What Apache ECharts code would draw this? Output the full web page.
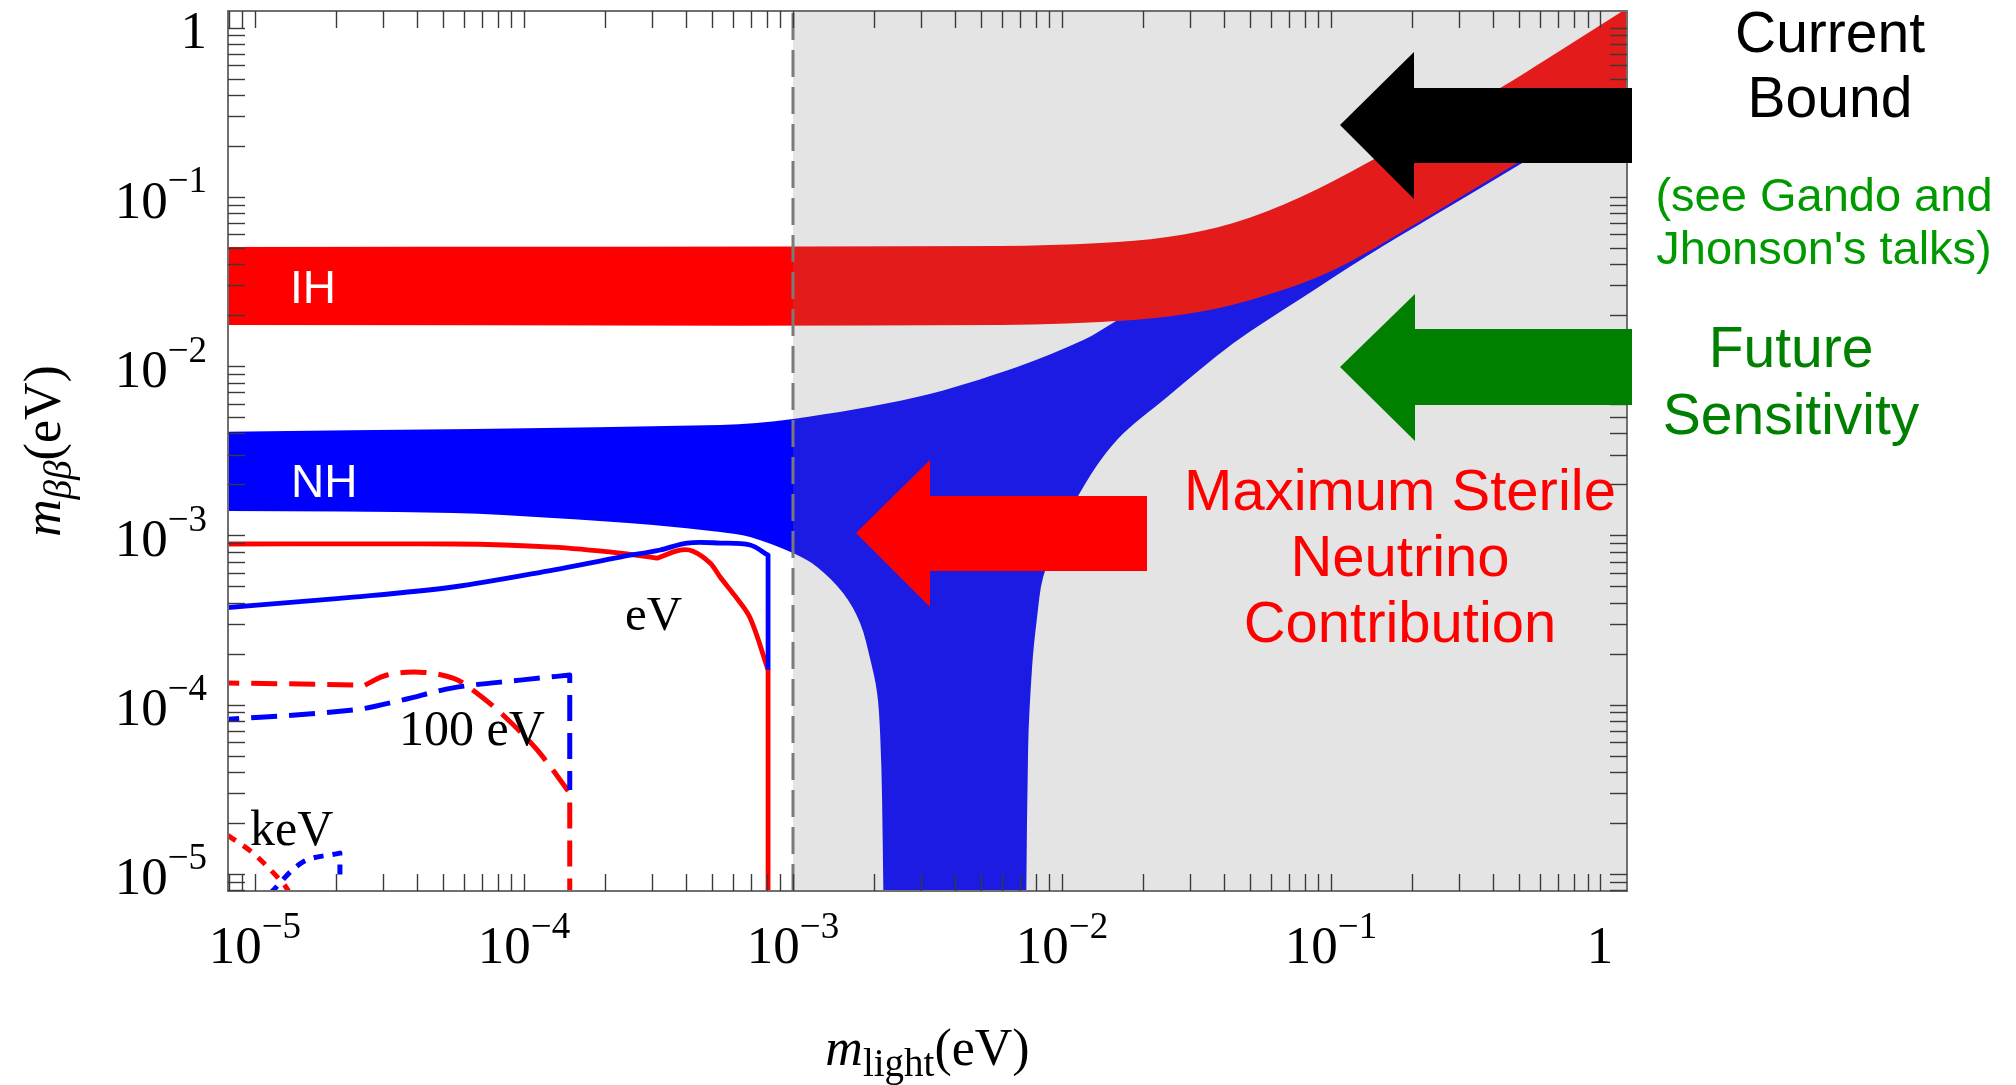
<!DOCTYPE html>
<html>
<head>
<meta charset="utf-8">
<script src="https://cdn.jsdelivr.net/npm/echarts@6/dist/echarts.min.js"></script>
<style>
  html, body { margin: 0; padding: 0; background: #fff; }
  #chart { width: 2016px; height: 1085px; }
</style>
</head>
<body>
<div id="chart"></div>
<script>
const logMin = -5.1;
const logMax = 0.1;
const decadeLabels = [-5, -4, -3, -2, -1, 0];
const grayStart = 1e-3; // shaded region starts here (eV)

// bands: [m_light (eV), m_bb (eV)], each edge left to right
const ihUpper = [[7e-6, 0.0508], [5.89e-3, 0.0515], [0.0139, 0.0536], [0.0246, 0.0581], [0.0433, 0.0704],
  [0.0768, 0.100], [0.136, 0.159], [0.425, 0.442], [0.652, 0.673], [1.3, 1.35]];
const ihLower = [[7e-6, 0.01756], [5.89e-3, 0.01756], [0.0184, 0.0188], [0.0326, 0.0210], [0.0579, 0.0264],
  [0.102, 0.0371], [0.209, 0.0704], [0.492, 0.159], [1.3, 0.40]];
const nhUpper = [[7e-6, 4.10e-3], [5.36e-4, 4.51e-3], [1.0e-3, 4.89e-3], [2.89e-3, 6.59e-3], [6.81e-3, 9.92e-3],
  [0.0120, 0.0143], [0.0155, 0.0181], [0.0213, 0.0247], [0.0326, 0.0371], [0.102, 0.0962], [0.425, 0.327], [1.3, 0.81]];
// lower edge left of the funnel, down into it
const nhLowerLeft = [[7e-6, 1.398e-3], [5.45e-5, 1.360e-3], [1.28e-4, 1.271e-3], [3.02e-4, 1.155e-3], [5.36e-4, 1.050e-3],
  [6.93e-4, 9.81e-4], [1.0e-3, 7.89e-4], [1.229e-3, 6.53e-4], [1.535e-3, 4.58e-4], [1.776e-3, 3.05e-4],
  [1.935e-3, 1.87e-4], [2.054e-3, 1.18e-4], [2.108e-3, 6.8e-5], [2.144e-3, 2.74e-5], [2.20e-3, 1e-6]];
// lower edge from the funnel bottom up to the right
const nhLowerRight = [[7.29e-3, 1e-6], [7.48e-3, 5.41e-5], [7.74e-3, 1.67e-4], [8.08e-3, 3.30e-4], [8.51e-3, 5.69e-4],
  [9.84e-3, 1.04e-3], [0.0120, 1.94e-3], [0.0160, 3.67e-3], [0.0246, 6.59e-3], [0.0433, 0.0137],
  [0.0768, 0.0250], [0.136, 0.0449], [0.240, 0.0774], [0.425, 0.133], [1.3, 0.385]];

// sterile neutrino curves, split where the curve has a corner
const ihEv = [
  [[7e-6, 8.92e-4], [5.45e-5, 8.92e-4], [1.28e-4, 8.56e-4], [2.28e-4, 7.89e-4], [3.13e-4, 7.36e-4]],
  [[3.13e-4, 7.36e-4], [3.80e-4, 8.21e-4], [4.25e-4, 8.09e-4], [4.92e-4, 6.89e-4], [5.36e-4, 5.69e-4],
    [6.09e-4, 4.40e-4], [6.93e-4, 3.26e-4], [8.08e-4, 1.61e-4]],
  [[8.08e-4, 1.61e-4], [8.08e-4, 1e-6]]
];
const nhEv = [
  [[7e-6, 3.70e-4], [2.32e-5, 4.33e-4], [5.45e-5, 4.97e-4], [1.28e-4, 6.26e-4], [2.28e-4, 7.47e-4],
    [3.21e-4, 8.22e-4], [4.04e-4, 9.04e-4], [5.36e-4, 9.04e-4], [6.93e-4, 8.80e-4], [8.08e-4, 7.66e-4]],
  [[8.08e-4, 7.66e-4], [8.08e-4, 1.61e-4]]
];
const ih100eV = [
  [[7e-6, 1.35e-4], [2.32e-5, 1.31e-4], [2.52e-5, 1.29e-4]],
  [[2.52e-5, 1.29e-4], [3.10e-5, 1.50e-4], [4.11e-5, 1.56e-4], [5.45e-5, 1.44e-4], [6.47e-5, 1.22e-4],
    [8.36e-5, 8.71e-5], [1.12e-4, 5.41e-5], [1.48e-4, 3.01e-5]],
  [[1.48e-4, 3.01e-5], [1.48e-4, 1e-6]]
];
const nh100eV = [
  [[7e-6, 8.1e-5], [2.32e-5, 9.32e-5], [3.55e-5, 1.07e-4], [5.45e-5, 1.26e-4], [9.67e-5, 1.40e-4], [1.48e-4, 1.50e-4]],
  [[1.48e-4, 1.50e-4], [1.48e-4, 3.14e-5]]
];
const ihKeV = [
  [[7.9e-6, 1.70e-5], [9.84e-6, 1.33e-5], [1.27e-5, 8.86e-6], [1.35e-5, 7.7e-6]]
];
const nhKeV = [
  [[1.14e-5, 7.7e-6], [1.51e-5, 1.18e-5], [2.07e-5, 1.33e-5]],
  [[2.07e-5, 1.33e-5], [2.07e-5, 9.7e-6]]
];

const toLog = (p) => [Math.log10(p[0]), Math.log10(p[1])];

// 1..9 ticks in every decade
const tickValues = [];
for (let n = -6; n <= 0; n++) {
  for (let k = 1; k <= 9; k++) {
    const v = n + Math.log10(k);
    if (v >= logMin - 1e-9 && v <= logMax + 1e-9) tickValues.push(v);
  }
}

const serif = "'Liberation Serif', 'DejaVu Serif', serif";
const sans = "'Liberation Sans', Arial, sans-serif";

function decadeLabel(v) {
  const n = Math.round(v);
  return n === 0 ? '{b|1}' : '{b|10}{s|\u2212' + Math.abs(n) + '}';
}
const labelRich = {
  b: { fontFamily: serif, fontSize: 53, color: '#000', lineHeight: 66, verticalAlign: 'bottom' },
  s: { fontFamily: serif, fontSize: 37, color: '#000', verticalAlign: 'top' }
};
const titleRich = {
  i: { fontFamily: serif, fontSize: 52, fontStyle: 'italic', color: '#000' },
  sub: { fontFamily: serif, fontSize: 39, color: '#000', padding: [29, 0, 0, 0] },
  subi: { fontFamily: serif, fontSize: 39, fontStyle: 'italic', color: '#000', padding: [29, 0, 0, 0] },
  n: { fontFamily: serif, fontSize: 52, color: '#000' }
};

function frameAxis(extra) {
  return Object.assign({
    type: 'value',
    min: logMin,
    max: logMax,
    z: 10,
    splitLine: { show: false },
    axisLine: { show: true, onZero: false, lineStyle: { color: '#707070', width: 2 } },
    axisTick: { show: true, inside: true, length: 17, customValues: tickValues, lineStyle: { color: '#3a3a3a', width: 1.4 } },
    axisLabel: { show: false }
  }, extra);
}

// smooth path through each piece (pixel space), pieces joined by straight lines
function piecesPath(api, pieces) {
  let d = '';
  pieces.forEach((piece, idx) => {
    const p = piece.map((q) => api.coord(toLog(q)));
    d += (idx === 0 ? 'M' : 'L') + p[0][0] + ',' + p[0][1];
    const n = p.length;
    const tan = p.map((q, i) => {
      const a = p[Math.max(i - 1, 0)];
      const b = p[Math.min(i + 1, n - 1)];
      const dx = b[0] - a[0], dy = b[1] - a[1];
      const len = Math.hypot(dx, dy) || 1;
      return [dx / len, dy / len];
    });
    for (let i = 0; i < n - 1; i++) {
      const a = p[i], b = p[i + 1];
      const seg = Math.hypot(b[0] - a[0], b[1] - a[1]) / 3;
      const c1 = [a[0] + tan[i][0] * seg, a[1] + tan[i][1] * seg];
      const c2 = [b[0] - tan[i + 1][0] * seg, b[1] - tan[i + 1][1] * seg];
      d += 'C' + c1[0] + ',' + c1[1] + ' ' + c2[0] + ',' + c2[1] + ' ' + b[0] + ',' + b[1];
    }
  });
  return d;
}

function bandSeries(name, pieces, color) {
  return {
    name: name,
    type: 'custom',
    z: 2,
    clip: true,
    silent: true,
    data: [toLog(pieces[0][0])],
    renderItem: function (params, api) {
      return {
        type: 'path',
        shape: { pathData: piecesPath(api, pieces) + 'Z' },
        style: { fill: color, stroke: null }
      };
    }
  };
}

function curveSeries(name, pieces, color, dash, width) {
  return {
    name: name,
    type: 'custom',
    z: 3,
    clip: true,
    silent: true,
    data: [toLog(pieces[0][0])],
    renderItem: function (params, api) {
      return {
        type: 'path',
        shape: { pathData: piecesPath(api, pieces) },
        style: { fill: 'none', stroke: color, lineWidth: width, lineDash: dash, lineJoin: 'round' }
      };
    }
  };
}

const rev = (a) => a.slice().reverse();

const chart = echarts.init(document.getElementById('chart'), null, { renderer: 'canvas' });

const option = {
  backgroundColor: '#fff',
  animation: false,
  grid: { left: 228, top: 11, width: 1399, height: 880, outerBoundsMode: 'none' },
  xAxis: [
    frameAxis({
      position: 'bottom',
      name: '{i|m}{sub|light}{n|(eV)}',
      nameLocation: 'middle',
      nameGap: 126,
      nameTextStyle: { rich: titleRich },
      axisLabel: { show: true, margin: 19, customValues: decadeLabels, formatter: decadeLabel, rich: labelRich }
    }),
    frameAxis({ position: 'top' })
  ],
  yAxis: [
    frameAxis({
      position: 'left',
      name: '{i|m}{subi|\u03b2\u03b2}{n|(eV)}',
      nameLocation: 'middle',
      nameGap: 148,
      nameRotate: 90,
      nameTextStyle: { rich: titleRich },
      axisLabel: { show: true, margin: 21, customValues: decadeLabels, formatter: decadeLabel, rich: labelRich }
    }),
    frameAxis({ position: 'right' })
  ],
  series: [
    bandSeries('NH', [nhUpper, rev(nhLowerRight), rev(nhLowerLeft)], '#0000ff'),
    bandSeries('IH', [ihUpper, rev(ihLower)], '#ff0000'),
    curveSeries('IH eV', ihEv, '#ff0000', null, 4.8),
    curveSeries('NH eV', nhEv, '#0000ff', null, 4.8),
    curveSeries('IH 100 eV', ih100eV, '#ff0000', [26, 12], 5),
    curveSeries('NH 100 eV', nh100eV, '#0000ff', [26, 12], 5),
    curveSeries('IH keV', ihKeV, '#ff0000', [10, 9], 5),
    curveSeries('NH keV', nhKeV, '#0000ff', [10, 9], 5),
    {
      name: 'shade',
      type: 'custom',
      z: 5,
      clip: true,
      silent: true,
      data: [[Math.log10(grayStart), logMax]],
      renderItem: function (params, api) {
        const p0 = api.coord([Math.log10(grayStart), logMax]);
        const p1 = api.coord([logMax, logMin]);
        return {
          type: 'rect',
          shape: { x: p0[0], y: p0[1], width: p1[0] - p0[0], height: p1[1] - p0[1] + 2 },
          style: { fill: 'rgba(127,127,127,0.21)' }
        };
      }
    },
    {
      name: 'boundary',
      type: 'line',
      z: 6,
      silent: true,
      showSymbol: false,
      data: [[Math.log10(grayStart), logMin], [Math.log10(grayStart), logMax]],
      lineStyle: { color: '#7a7a7a', width: 3, type: [27, 10] }
    }
  ],
  graphic: [
    { type: 'polygon', z: 100, shape: { points: [[1340, 125], [1414, 52], [1414, 88], [1632, 88], [1632, 163], [1414, 163], [1414, 199]] }, style: { fill: '#000' } },
    { type: 'polygon', z: 100, shape: { points: [[1340, 367], [1415, 294], [1415, 329], [1632, 329], [1632, 405], [1415, 405], [1415, 441]] }, style: { fill: '#007f00' } },
    { type: 'polygon', z: 100, shape: { points: [[856, 533], [930, 460], [930, 496], [1147, 496], [1147, 571], [930, 571], [930, 607]] }, style: { fill: '#ff0000' } },

    { type: 'text', z: 100, x: 290, y: 290, style: { text: 'IH', fill: '#fff', fontFamily: sans, fontSize: 46, textAlign: 'left', textVerticalAlign: 'middle', align: 'left', verticalAlign: 'middle' } },
    { type: 'text', z: 100, x: 291, y: 484, style: { text: 'NH', fill: '#fff', fontFamily: sans, fontSize: 46, textAlign: 'left', textVerticalAlign: 'middle', align: 'left', verticalAlign: 'middle' } },
    { type: 'text', z: 100, x: 625, y: 617, style: { text: 'eV', fill: '#000', fontFamily: serif, fontSize: 49, textAlign: 'left', textVerticalAlign: 'middle', align: 'left', verticalAlign: 'middle' } },
    { type: 'text', z: 100, x: 399, y: 732, style: { text: '100 eV', fill: '#000', fontFamily: serif, fontSize: 50, textAlign: 'left', textVerticalAlign: 'middle', align: 'left', verticalAlign: 'middle' } },
    { type: 'text', z: 100, x: 250, y: 832, style: { text: 'keV', fill: '#000', fontFamily: serif, fontSize: 50, textAlign: 'left', textVerticalAlign: 'middle', align: 'left', verticalAlign: 'middle' } },

    { type: 'text', z: 100, x: 1400, y: 461, style: { text: 'Maximum Sterile\nNeutrino\nContribution', fill: '#ff0000', fontFamily: sans, fontSize: 58, lineHeight: 66, textAlign: 'center', textVerticalAlign: 'top', align: 'center', verticalAlign: 'top' } },
    { type: 'text', z: 100, x: 1830, y: 4, style: { text: 'Current\nBound', fill: '#000', fontFamily: sans, fontSize: 57, lineHeight: 65, textAlign: 'center', textVerticalAlign: 'top', align: 'center', verticalAlign: 'top' } },
    { type: 'text', z: 100, x: 1824, y: 172, style: { text: '(see Gando and\nJhonson\'s talks)', fill: '#009a00', fontFamily: sans, fontSize: 47, lineHeight: 53, textAlign: 'center', textVerticalAlign: 'top', align: 'center', verticalAlign: 'top' } },
    { type: 'text', z: 100, x: 1791, y: 318, style: { text: 'Future\nSensitivity', fill: '#008000', fontFamily: sans, fontSize: 57, lineHeight: 67, textAlign: 'center', textVerticalAlign: 'top', align: 'center', verticalAlign: 'top' } }
  ]
};

chart.setOption(option);
</script>
</body>
</html>
